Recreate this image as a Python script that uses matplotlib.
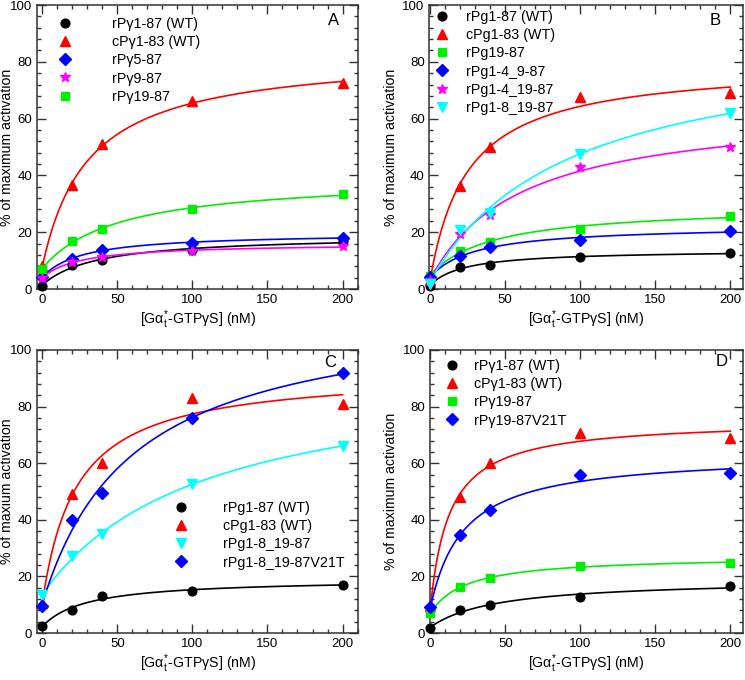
import numpy as np
import matplotlib
matplotlib.use("Agg")
import matplotlib.pyplot as plt
from matplotlib.lines import Line2D
from matplotlib.ticker import MultipleLocator

plt.rcParams['font.family'] = ['Liberation Sans', 'DejaVu Sans']
plt.rcParams['mathtext.fontset'] = 'custom'
plt.rcParams['mathtext.rm'] = 'Liberation Sans'
plt.rcParams['mathtext.it'] = 'Liberation Sans'
plt.rcParams['mathtext.bf'] = 'Liberation Sans:bold'

# ---------------- data ----------------
conc = [0, 20, 40, 100, 200]

# Panel A
a_labels = ["rPγ1-87 (WT)", "cPγ1-83 (WT)", "rPγ5-87", "rPγ9-87", "rPγ19-87"]
a_rP1_87 = [1.2, 8.3, 10.1, 13.6, 16.8]
a_cP1_83 = [8.0, 36.7, 50.9, 66.3, 72.4]
a_rP5_87 = [4.1, 10.7, 13.8, 16.2, 18.1]
a_rP9_87 = [3.9, 9.5, 11.2, 13.4, 15.0]
a_rP19_87 = [7.1, 16.9, 21.3, 28.0, 33.4]

# Panel B
b_labels = ["rPg1-87 (WT)", "cPg1-83 (WT)", "rPg19-87", "rPg1-4_9-87", "rPg1-4_19-87", "rPg1-8_19-87"]
b_rP1_87 = [1.2, 7.7, 8.5, 11.2, 12.8]
b_cP1_83 = [3.0, 36.1, 49.9, 67.5, 68.9]
b_rP19_87 = [4.7, 13.4, 16.6, 21.3, 25.7]
b_rP1_4_9_87 = [4.1, 11.5, 14.8, 17.4, 20.5]
b_rP1_4_19_87 = [3.0, 19.5, 26.0, 42.8, 49.9]
b_rP1_8_19_87 = [1.8, 20.7, 26.6, 47.6, 62.1]

# Panel C
c_labels = ["rPg1-87 (WT)", "cPg1-83 (WT)", "rPg1-8_19-87", "rPg1-8_19-87V21T"]
c_rP1_87 = [2.4, 8.2, 13.2, 14.7, 17.1]
c_cP1_83 = [10.6, 49.2, 60.2, 82.9, 80.9]
c_rP1_8_19_87 = [13.5, 27.1, 34.9, 52.7, 66.1]
c_rP1_8_19_87V21T = [9.4, 40.0, 49.4, 76.1, 92.0]

# Panel D
d_labels = ["rPγ1-87 (WT)", "cPγ1-83 (WT)", "rPγ19-87", "rPγ19-87V21T"]
d_rP1_87 = [1.8, 8.2, 9.8, 12.6, 16.7]
d_cP1_83 = [9.4, 48.2, 60.0, 70.6, 68.8]
d_rP19_87 = [7.1, 16.2, 19.4, 23.8, 24.7]
d_rP19_87V21T = [9.1, 34.7, 43.3, 55.9, 56.5]

# ---------------- styles ----------------
BLACK = dict(color='black', marker='o', ms=6.3)
RED = dict(color='#ff0000', marker='^', ms=7)
BLUE = dict(color='#0000ff', marker='D', ms=6)
MAG = dict(color='#ff00ff', marker='*', ms=7.5)
GREEN = dict(color='#00ee00', marker='s', ms=6)
CYAN = dict(color='#00ffff', marker='v', ms=7)


def hyperbola_fit(x, y):
    """Least-squares fit y = y0 + Bmax*x/(K+x) (grid search on K)."""
    x = np.asarray(x, float)
    y = np.asarray(y, float)
    best = None
    for K in np.logspace(-0.5, 3.5, 2000):
        A = np.column_stack([np.ones_like(x), x / (K + x)])
        coef, *_ = np.linalg.lstsq(A, y, rcond=None)
        r = np.sum((A @ coef - y) ** 2)
        if best is None or r < best[0]:
            best = (r, K, coef)
    _, K, coef = best
    return lambda xx: coef[0] + coef[1] * xx / (K + xx)


W, H = 745, 680
fig = plt.figure(figsize=(W / 100, H / 100), dpi=100)


def add_ax(left, right, top, bottom):
    ax = fig.add_axes([left / W, 1 - bottom / H, (right - left) / W, (bottom - top) / H])
    ax._px = (left, right)
    return ax


def style(ax, xlim, ylabel, letter, letter_xy, ylab_right_px):
    ax.set_xlim(*xlim)
    ax.set_ylim(0, 100)
    ax.xaxis.set_major_locator(MultipleLocator(50))
    ax.xaxis.set_minor_locator(MultipleLocator(10))
    ax.yaxis.set_major_locator(MultipleLocator(20))
    ax.yaxis.set_minor_locator(MultipleLocator(4))
    ax.tick_params(which='both', direction='in', top=True, right=True, labelsize=9.5,
                   color='#333333', width=1.0)
    ax.tick_params(which='major', length=6.3, pad=3.5)
    ax.tick_params(which='minor', length=3)
    for s in ax.spines.values():
        s.set_linewidth(1.1)
        s.set_color('#333333')
    ax.set_xlabel(r'[G$\alpha_{t}^{*}$-GTP$\gamma$S] (nM)', fontsize=10.2, labelpad=2)
    ax.set_ylabel(ylabel, fontsize=10.2)
    left, right = ax._px
    ax.yaxis.set_label_coords((ylab_right_px - left) / (right - left), 0.5)
    ax.text(*letter_xy, letter, transform=ax.transAxes, fontsize=12, ha='center', va='center')


def draw(ax, series, styles):
    xs = np.linspace(0, 200, 300)
    for ys, st in zip(series, styles):
        f = hyperbola_fit(conc, ys)
        ax.plot(xs, f(xs), color=st['color'], lw=1.2, zorder=2)
    for ys, st in zip(series, styles):
        ax.plot(conc, ys, linestyle='none', marker=st['marker'], color=st['color'],
                ms=st['ms'], mec=st['color'], zorder=3, clip_on=False)


def legend(ax, labels, styles, marker_x, text_x, first_y, fs=10.3):
    em = fs * 100 / 72
    handles = [Line2D([], [], linestyle='none', marker=st['marker'], color=st['color'],
                      ms=st['ms']) for st in styles]
    hl = 1.0
    left = marker_x - 0.5 * hl * em
    top = first_y - 0.62 * em + 2.5
    pad = (text_x - marker_x - 0.5 * hl * em) / em
    ax.legend(handles, labels, loc='upper left',
              bbox_to_anchor=(left / W, 1 - top / H), bbox_transform=fig.transFigure,
              frameon=False, fontsize=fs, handlelength=hl, handletextpad=pad,
              labelspacing=0.30, borderpad=0, borderaxespad=0, numpoints=1)


# Panel A
axA = add_ax(37, 358.3, 5, 289)
stA = [BLACK, RED, BLUE, MAG, GREEN]
draw(axA, [a_rP1_87, a_cP1_83, a_rP5_87, a_rP9_87, a_rP19_87], stA)
style(axA, (-3.5, 210.5), '% of maximum activation', 'A', (0.922, 0.947), 14)
legend(axA, a_labels, stA, 65, 112, 23)

# Panel B
axB = add_ax(429.5, 743, 5, 289)
stB = [BLACK, RED, GREEN, BLUE, MAG, CYAN]
draw(axB, [b_rP1_87, b_cP1_83, b_rP19_87, b_rP1_4_9_87, b_rP1_4_19_87, b_rP1_8_19_87], stB)
style(axB, (-0.3, 208.5), '% of maximum activation', 'B', (0.91, 0.947), 398)
legend(axB, b_labels, stB, 442, 466, 16)

# Panel C
axC = add_ax(37, 358.3, 350, 633)
stC = [BLACK, RED, CYAN, BLUE]
draw(axC, [c_rP1_87, c_cP1_83, c_rP1_8_19_87, c_rP1_8_19_87V21T], stC)
style(axC, (-3.5, 210.5), '% of maxium activation', 'C', (0.912, 0.955), 14)
legend(axC, c_labels, stC, 181, 223, 507)

# Panel D
axD = add_ax(430, 743, 350, 633)
stD = [BLACK, RED, GREEN, BLUE]
draw(axD, [d_rP1_87, d_cP1_83, d_rP19_87, d_rP19_87V21T], stD)
style(axD, (-0.3, 208.5), '% of maximum activation', 'D', (0.933, 0.958), 398)
legend(axD, d_labels, stD, 452, 474, 365)

fig.savefig('out.png', dpi=100)
